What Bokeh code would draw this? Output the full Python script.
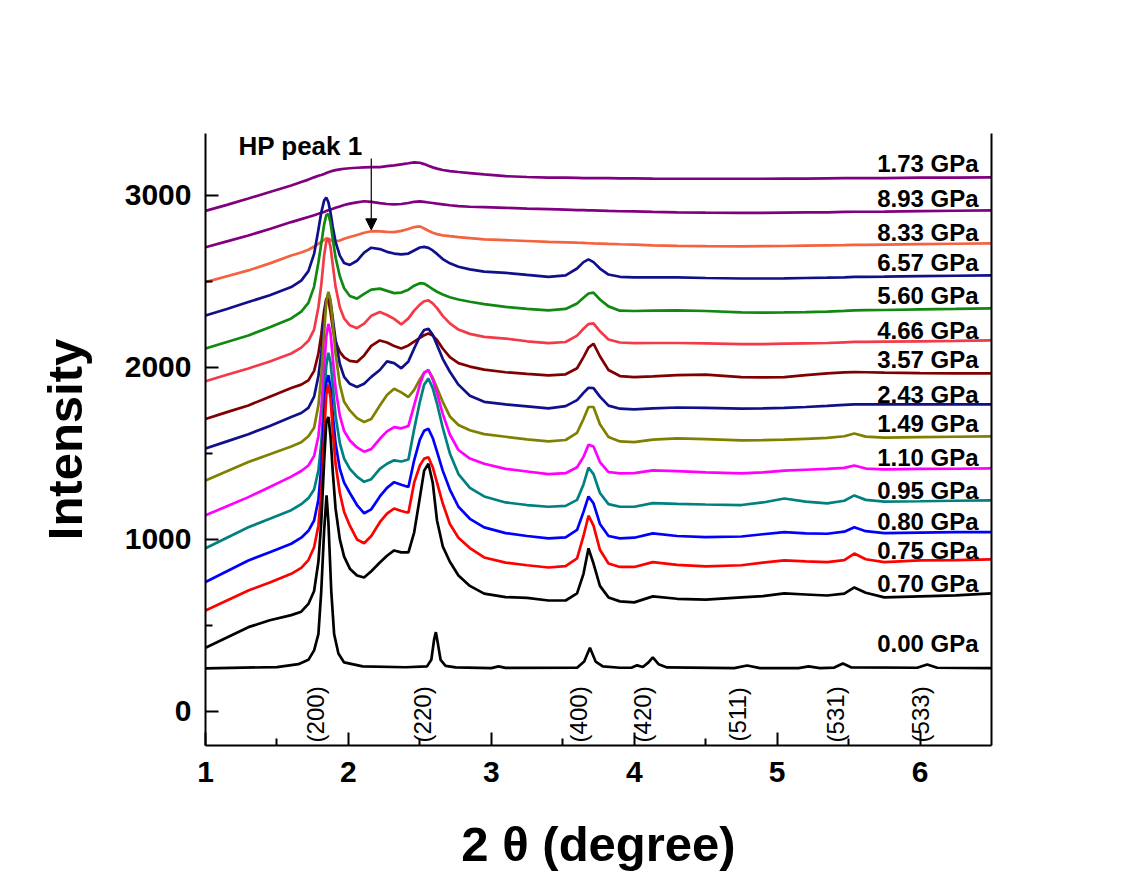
from math import pi
from bokeh.plotting import figure
from bokeh.models import Range1d, LinearAxis, Arrow, NormalHead, FixedTicker
from bokeh.core.properties import value
from bokeh.embed import file_html
from bokeh.resources import INLINE

# shared 2-theta grid for the pressure patterns
X = [1.0, 1.15, 1.3, 1.45, 1.6, 1.67, 1.72, 1.76, 1.79, 1.81, 1.83, 1.845, 1.86, 1.875, 1.89, 1.91,
     1.94, 1.97, 2.01, 2.06, 2.11, 2.16, 2.22, 2.27, 2.32, 2.37, 2.42, 2.46, 2.5, 2.53, 2.56, 2.59,
     2.62, 2.66, 2.71, 2.77, 2.85, 2.95, 3.1, 3.25, 3.4, 3.52, 3.6, 3.645, 3.68, 3.715, 3.76, 3.82,
     3.9, 4.0, 4.13, 4.3, 4.5, 4.75, 4.9, 5.05, 5.2, 5.35, 5.47, 5.54, 5.62, 5.75, 6.0, 6.25, 6.5]

p173 = [2910, 2945, 2982, 3020, 3058, 3078, 3092, 3105, 3114, 3119, 3125, 3130, 3135, 3139, 3143, 3147,
        3151, 3155, 3158, 3161, 3163, 3164, 3165, 3170, 3175, 3181, 3187, 3192, 3190, 3182, 3172, 3163,
        3156, 3148, 3141, 3136, 3130, 3122, 3112, 3107, 3104, 3103, 3102, 3101, 3101, 3101, 3100, 3100,
        3099, 3099, 3098, 3097, 3097, 3097, 3097, 3098, 3098, 3099, 3100, 3100, 3101, 3101, 3103, 3104, 3105]
p893 = [2699, 2733, 2767, 2805, 2845, 2862, 2875, 2885, 2893, 2899, 2904, 2909, 2914, 2918, 2922, 2928,
        2936, 2944, 2952, 2960, 2966, 2962, 2955, 2950, 2948, 2950, 2956, 2963, 2965, 2962, 2959, 2956,
        2952, 2948, 2943, 2938, 2934, 2932, 2928, 2923, 2920, 2917, 2915, 2914, 2913, 2913, 2912, 2910,
        2908, 2907, 2904, 2902, 2900, 2899, 2899, 2900, 2901, 2902, 2904, 2905, 2905, 2906, 2909, 2911, 2913]
p833 = [2496, 2530, 2564, 2605, 2651, 2668, 2684, 2703, 2718, 2730, 2742, 2750, 2748, 2741, 2735, 2733,
        2738, 2748, 2758, 2770, 2783, 2792, 2791, 2788, 2787, 2794, 2805, 2816, 2820, 2808, 2795, 2783,
        2775, 2768, 2763, 2758, 2752, 2744, 2740, 2735, 2730, 2727, 2725, 2724, 2722, 2721, 2720, 2718,
        2716, 2714, 2710, 2707, 2705, 2704, 2705, 2706, 2708, 2710, 2711, 2712, 2712, 2714, 2717, 2719, 2721]
p657 = [2302, 2340, 2380, 2420, 2467, 2505, 2560, 2660, 2800, 2900, 2970, 2988, 2960, 2900, 2820, 2730,
        2650, 2607, 2596, 2620, 2668, 2696, 2688, 2672, 2662, 2657, 2662, 2680, 2697, 2701, 2695, 2680,
        2660, 2630, 2605, 2585, 2570, 2557, 2550, 2538, 2527, 2535, 2575, 2612, 2628, 2612, 2575, 2540,
        2527, 2524, 2523, 2523, 2520, 2517, 2517, 2518, 2520, 2522, 2524, 2526, 2527, 2528, 2531, 2533, 2535]
p560 = [2110, 2148, 2186, 2233, 2285, 2325, 2375, 2470, 2610, 2720, 2830, 2885, 2893, 2840, 2750, 2640,
        2530, 2460, 2415, 2400, 2428, 2452, 2458, 2445, 2432, 2435, 2452, 2475, 2490, 2487, 2472, 2455,
        2440, 2424, 2408, 2395, 2382, 2368, 2352, 2340, 2332, 2340, 2372, 2405, 2430, 2435, 2395, 2355,
        2330, 2328, 2330, 2332, 2328, 2320, 2319, 2320, 2322, 2325, 2329, 2332, 2333, 2334, 2338, 2340, 2343]
p466 = [1920, 1957, 1994, 2035, 2081, 2115, 2155, 2220, 2350, 2480, 2650, 2730, 2750, 2700, 2600, 2470,
        2350, 2285, 2245, 2228, 2255, 2300, 2322, 2305, 2282, 2250, 2285, 2330, 2365, 2385, 2390, 2372,
        2345, 2300, 2256, 2220, 2195, 2178, 2168, 2152, 2141, 2148, 2185, 2225, 2252, 2256, 2210, 2162,
        2145, 2141, 2142, 2142, 2140, 2135, 2136, 2138, 2140, 2142, 2146, 2148, 2149, 2150, 2152, 2154, 2157]
p357 = [1700, 1740, 1779, 1830, 1880, 1900, 1925, 1980, 2080, 2190, 2330, 2400, 2390, 2320, 2230, 2150,
        2090, 2058, 2038, 2032, 2070, 2125, 2157, 2145, 2125, 2110, 2128, 2150, 2172, 2187, 2197, 2185,
        2160, 2110, 2060, 2025, 2005, 1987, 1972, 1962, 1954, 1960, 1995, 2060, 2115, 2138, 2065, 1985,
        1950, 1944, 1948, 1955, 1958, 1944, 1942, 1944, 1955, 1965, 1971, 1973, 1972, 1970, 1967, 1966, 1965]
p243 = [1529, 1570, 1612, 1660, 1712, 1735, 1765, 1830, 1950, 2080, 2270, 2390, 2428, 2380, 2290, 2160,
        2020, 1945, 1905, 1886, 1905, 1945, 1985, 2035, 2025, 1995, 2035, 2110, 2180, 2218, 2225, 2190,
        2130, 2050, 1975, 1900, 1835, 1800, 1785, 1774, 1762, 1775, 1810, 1852, 1882, 1880, 1830, 1778,
        1760, 1756, 1762, 1767, 1765, 1760, 1762, 1765, 1770, 1776, 1782, 1785, 1785, 1785, 1785, 1785, 1785]
p149 = [1343, 1397, 1450, 1495, 1540, 1565, 1600, 1650, 1780, 1950, 2200, 2380, 2440, 2390, 2260, 2080,
        1900, 1800, 1750, 1705, 1683, 1700, 1779, 1840, 1876, 1855, 1828, 1870, 1930, 1970, 1983, 1940,
        1880, 1800, 1715, 1665, 1635, 1612, 1597, 1582, 1570, 1578, 1620, 1700, 1770, 1770, 1670, 1595,
        1570, 1566, 1580, 1587, 1583, 1576, 1577, 1580, 1585, 1590, 1600, 1616, 1598, 1592, 1595, 1597, 1599]
p110 = [1140, 1193, 1246, 1305, 1365, 1398, 1430, 1485, 1600, 1760, 2000, 2180, 2253, 2200, 2060, 1880,
        1720, 1630, 1575, 1535, 1510, 1525, 1585, 1628, 1653, 1646, 1660, 1780, 1900, 1970, 1985, 1930,
        1850, 1730, 1610, 1520, 1470, 1440, 1410, 1395, 1380, 1385, 1420, 1480, 1550, 1540, 1450, 1392,
        1384, 1386, 1401, 1397, 1390, 1384, 1390, 1400, 1405, 1410, 1416, 1430, 1412, 1407, 1410, 1411, 1413]
p095 = [948, 1010, 1071, 1120, 1170, 1205, 1240, 1290, 1400, 1560, 1820, 2010, 2085, 2030, 1900, 1720,
        1560, 1470, 1410, 1365, 1335, 1350, 1410, 1440, 1460, 1453, 1465, 1640, 1800, 1900, 1935, 1880,
        1790, 1650, 1500, 1380, 1300, 1250, 1215, 1200, 1190, 1195, 1230, 1320, 1418, 1380, 1270, 1205,
        1190, 1190, 1211, 1207, 1203, 1200, 1215, 1238, 1220, 1210, 1225, 1256, 1230, 1220, 1222, 1225, 1227]
p080 = [752, 815, 878, 925, 975, 1010, 1050, 1110, 1230, 1420, 1720, 1910, 1955, 1880, 1730, 1560,
        1410, 1330, 1270, 1200, 1152, 1175, 1250, 1300, 1333, 1318, 1305, 1460, 1580, 1632, 1643, 1590,
        1510, 1400, 1290, 1190, 1120, 1070, 1037, 1020, 1006, 1012, 1055, 1160, 1250, 1210, 1090, 1020,
        1006, 1010, 1035, 1020, 1013, 1017, 1030, 1043, 1035, 1033, 1045, 1071, 1048, 1037, 1040, 1042, 1043]
p075 = [587, 645, 703, 750, 800, 835, 880, 955, 1080, 1270, 1600, 1840, 1900, 1820, 1640, 1440,
        1270, 1160, 1080, 1000, 978, 1020, 1100, 1150, 1180, 1165, 1155, 1330, 1430, 1470, 1478, 1420,
        1330, 1210, 1090, 1010, 950, 895, 865, 850, 837, 845, 890, 1020, 1138, 1080, 940, 860,
        840, 840, 868, 852, 843, 850, 865, 878, 872, 868, 880, 918, 885, 868, 878, 880, 884]
p070 = [370, 430, 490, 530, 560, 580, 625, 700, 870, 1100, 1450, 1680, 1712, 1600, 1400, 1180,
        1000, 900, 830, 790, 779, 815, 866, 905, 936, 925, 925, 1040, 1244, 1400, 1440, 1330,
        1110, 960, 870, 790, 730, 685, 665, 660, 645, 645, 686, 800, 948, 860, 730, 663,
        640, 634, 669, 655, 650, 663, 670, 686, 680, 674, 685, 721, 690, 663, 669, 675, 686]

# ambient pattern (own grid, sharper peaks)
X0 = [1.0, 1.5, 1.65, 1.72, 1.76, 1.79, 1.81, 1.83, 1.847, 1.86, 1.88, 1.9, 1.93, 1.97, 2.1, 2.4,
      2.55, 2.58, 2.6, 2.612, 2.625, 2.645, 2.68, 2.75, 3.0, 3.05, 3.1, 3.6, 3.65, 3.69, 3.73, 3.78,
      3.9, 3.98, 4.02, 4.06, 4.1, 4.13, 4.17, 4.23, 4.7, 4.79, 4.88, 5.15, 5.22, 5.3, 5.4, 5.46,
      5.52, 5.98, 6.05, 6.12, 6.5]
p000 = [250, 258, 275, 300, 355, 450, 700, 1050, 1256, 1100, 700, 450, 337, 285, 262, 257,
        262, 300, 420, 461, 400, 300, 265, 256, 252, 262, 253, 254, 290, 370, 290, 262,
        254, 254, 268, 258, 285, 314, 275, 256, 252, 267, 252, 252, 262, 252, 255, 279,
        256, 254, 273, 254, 252]

pressures = ["1.73 GPa", "8.93 GPa", "8.33 GPa", "6.57 GPa", "5.60 GPa", "4.66 GPa", "3.57 GPa",
             "2.43 GPa", "1.49 GPa", "1.10 GPa", "0.95 GPa", "0.80 GPa", "0.75 GPa", "0.70 GPa"]
colors = ["#800080", "#800080", "#F4623E", "#10108A", "#118811", "#F23A48", "#800000",
          "#10108A", "#808000", "#FF00FF", "#008080", "#0000FF", "#FF0000", "#000000"]
series = [p173, p893, p833, p657, p560, p466, p357, p243, p149, p110, p095, p080, p075, p070]

label_text = pressures + ["0.00 GPa"]
label_y = [3184, 2981, 2787, 2612, 2419, 2215, 2045, 1843, 1673, 1475, 1285, 1106, 936, 746, 394]

hkl = ["(200)", "(220)", "(400)", "(420)", "(511)", "(531)", "(533)"]
hkl_x = [1.77, 2.52, 3.61, 4.056, 4.72, 5.41, 6.0]

FONT = "Liberation Sans"

p = figure(width=1141, height=882, output_backend="svg", toolbar_location=None,
           x_range=Range1d(1, 6.5), y_range=Range1d(-198, 3360))
p.min_border_left = 205
p.min_border_right = 150
p.min_border_top = 133
p.min_border_bottom = 137
p.background_fill_color = "white"
p.border_fill_color = "white"
p.outline_line_color = None
p.grid.visible = False

for ys, c in zip(series, colors):
    p.line(X, ys, line_color=c, line_width=2.7)
p.line(X0, p000, line_color="black", line_width=2.7)

p.text(x=[6.41] * len(label_text), y=label_y, text=label_text, text_align="right",
       text_baseline="middle", text_font=value(FONT), text_font_style="bold",
       text_font_size="24px", text_color="black")

p.text(x=hkl_x, y=[-17] * len(hkl), text=hkl, angle=pi / 2, text_align="center",
       text_baseline="middle", text_font=value(FONT), text_font_size="24px", text_color="black")

p.text(x=[1.665], y=[3285], text=["HP peak 1"], text_align="center", text_baseline="middle",
       text_font=value(FONT), text_font_style="bold", text_font_size="26px", text_color="black")
p.add_layout(Arrow(x_start=2.16, y_start=3215, x_end=2.16, y_end=2800, line_width=1.2,
                   line_color="black",
                   end=NormalHead(size=11, fill_color="black", line_color="black")))

xa = p.xaxis[0]
xa.ticker = FixedTicker(ticks=[1, 2, 3, 4, 5, 6], minor_ticks=[1.5, 2.5, 3.5, 4.5, 5.5])
xa.axis_label = "2 θ (degree)"
ya = p.yaxis[0]
ya.ticker = FixedTicker(ticks=[0, 1000, 2000, 3000], minor_ticks=[500, 1500, 2500])
ya.axis_label = "Intensity"

for ax in (xa, ya):
    ax.axis_line_width = 2
    ax.axis_line_color = "black"
    ax.major_tick_in = 13
    ax.major_tick_out = 0
    ax.minor_tick_in = 7
    ax.minor_tick_out = 0
    ax.major_tick_line_width = 2
    ax.minor_tick_line_width = 2
    ax.major_label_text_font = FONT
    ax.major_label_text_font_style = "bold"
    ax.major_label_text_font_size = "30px"
    ax.major_label_text_color = "black"
    ax.axis_label_text_font = FONT
    ax.axis_label_text_font_style = "bold"
    ax.axis_label_text_font_size = "49px"
    ax.axis_label_text_color = "black"
xa.major_label_standoff = 16
xa.axis_label_standoff = 32
ya.major_label_standoff = 14
ya.axis_label_standoff = 30

ra = LinearAxis(ticker=FixedTicker(ticks=[]), axis_line_width=2, axis_line_color="black",
                major_tick_in=0, major_tick_out=0, minor_tick_in=0, minor_tick_out=0,
                major_label_text_color=None)
p.add_layout(ra, "right")

open("out.html", "w").write(file_html(p, INLINE))
